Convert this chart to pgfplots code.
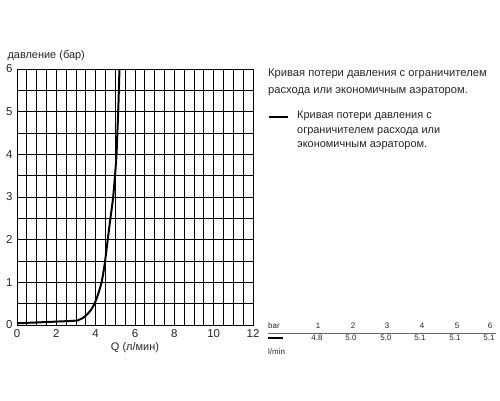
\documentclass[border=0pt]{standalone}
\usepackage{pgfplots}
\pgfplotsset{compat=1.18}
\usepackage{fontspec}
\setmainfont{Liberation Sans}
\begin{document}
\begin{tikzpicture}[x=1bp,y=1bp]
\path[use as bounding box] (0,0) rectangle (500,400);
\begin{axis}[
  at={(17bp,75bp)}, anchor=south west,
  scale only axis, width=236bp, height=256bp,
  xmin=0, xmax=12, ymin=0, ymax=6,
  xtick={0,2,...,12}, ytick={0,1,...,6},
  minor x tick num=3, minor y tick num=1,
  grid=both,
  major grid style={black, line width=0.7bp},
  minor grid style={black, line width=0.7bp},
  axis line style={black, line width=0.9bp},
  major tick length=0pt, minor tick length=0pt,
  tick label style={font=\fontsize{11.5}{13}\selectfont, text=black!85},
  /pgf/number format/assume math mode=true,
  xticklabel style={yshift=-1bp},
  yticklabel style={xshift=-1bp},
  clip=true,
]
\addplot[black, line width=2bp, smooth, tension=0.4] coordinates {
 (0,0.04) (1,0.06) (2,0.08) (3.1,0.11) (3.5,0.22) (3.8,0.38) (4.05,0.62)
 (4.3,1.0) (4.45,1.4) (4.6,1.95) (4.75,2.5) (4.89,3.0) (5.0,3.6) (5.06,4.0)
 (5.12,4.7) (5.16,5.2) (5.21,6.0)
};
\end{axis}
\node[anchor=west, font=\fontsize{11}{13}\selectfont, text=black!85] at (4,344) {давление (бар)};
\node[font=\fontsize{11}{13}\selectfont, text=black!85] at (135,52) {Q (л/мин)};
\node[anchor=north west, align=left, inner sep=0pt, font=\fontsize{11.2}{16.5}\selectfont, text=black!85] at (268,331) {Кривая потери давления с ограничителем\\расхода или экономичным аэратором.};
\draw[black, line width=2.5bp] (269,283) -- (288,283);
\node[anchor=north west, align=left, inner sep=0pt, font=\fontsize{11}{14.5}\selectfont, text=black!85] at (297,289) {Кривая потери давления с\\ограничителем расхода или\\экономичным аэратором.};
\begin{scope}[font=\fontsize{8}{9}\selectfont, text=black!85]
\node[anchor=west, inner sep=0pt] at (268,74) {bar};
\foreach \x/\v in {318/1,353/2,387/3,422/4,457/5,490/6} \node[inner sep=0pt] at (\x,74) {\v};
\draw[black!60, line width=0.8bp] (268,67) -- (496,67);
\draw[black, line width=2.5bp] (268,62) -- (283,62);
\foreach \x/\v in {317/4.8,351/5.0,386/5.0,420/5.1,455/5.1,489/5.1} \node[inner sep=0pt] at (\x,62) {\v};
\node[anchor=west, inner sep=0pt] at (268,48) {l/min};
\end{scope}
\end{tikzpicture}
\end{document}
